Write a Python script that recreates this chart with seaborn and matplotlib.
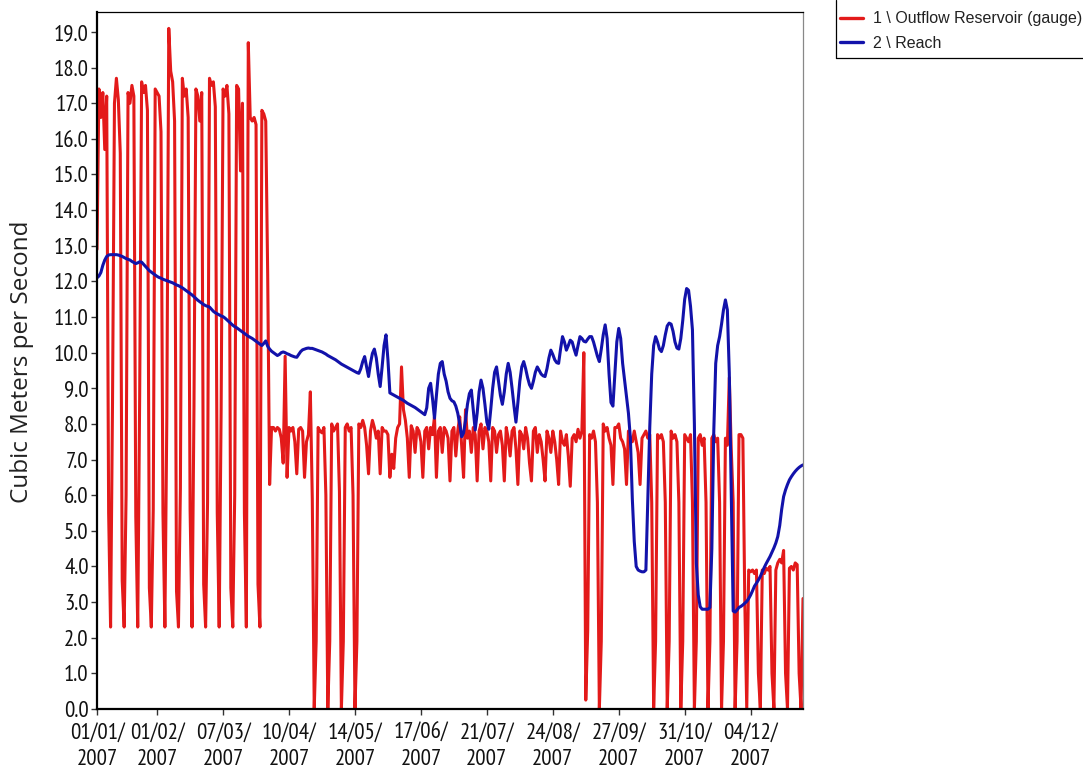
import os
import matplotlib
matplotlib.use("Agg")
import matplotlib.pyplot as plt
import matplotlib.dates as mdates
from matplotlib import font_manager
from matplotlib.font_manager import FontProperties
from matplotlib.lines import Line2D
import numpy as np
import pandas as pd
import seaborn as sns

# Daily flows for 2007, one value per day starting 1 January
start_date = "2007-01-01"

outflow_gauge = [
    12.9, 17.4, 16.6, 17.3, 15.7, 17.2, 5.5,
    2.3, 8.6, 17.0, 17.7, 17.1, 15.6, 3.6,
    2.3, 6.0, 17.3, 17.0, 17.5, 17.2, 5.4,
    2.3, 8.8, 17.6, 17.3, 17.5, 16.8, 3.4,
    2.3, 5.6, 17.4, 17.3, 17.2, 16.2, 5.5,
    2.3, 8.2, 19.1, 17.9, 17.6, 16.5, 3.3,
    2.3, 6.2, 17.7, 17.2, 17.4, 16.6, 5.6,
    2.3, 8.5, 17.4, 17.2, 16.5, 17.3, 3.5,
    2.3, 5.8, 17.7, 17.5, 17.6, 16.9, 5.5,
    2.3, 8.4, 17.4, 17.2, 17.5, 16.7, 3.4,
    2.3, 6.0, 17.5, 17.4, 15.1, 17.0, 5.5,
    2.3, 18.7, 16.6, 16.5, 16.6, 16.4, 3.5,
    2.3, 16.8, 16.7, 16.5, 12.2, 6.3, 7.9,
    7.9, 7.8, 7.9, 7.85, 7.6, 6.9, 9.9,
    6.5, 7.9, 7.8, 7.9, 7.5, 6.6, 7.85,
    7.9, 7.8, 6.5, 7.5, 7.7, 8.9, 5.9,
    0.0, 1.9, 7.9, 7.8, 7.75, 7.9, 6.0,
    0.0, 1.9, 8.0, 7.8, 7.9, 8.0, 6.1,
    0.0, 1.9, 7.9, 8.0, 7.8, 7.9, 6.0,
    0.0, 1.9, 8.0, 7.9, 8.1, 7.9, 7.4,
    6.6, 7.8, 8.1, 7.9, 7.6, 7.8, 6.6,
    7.9, 7.8, 7.8, 7.7, 6.5, 7.15, 6.75,
    7.6, 7.9, 8.0, 9.6, 8.4, 8.1, 7.6,
    6.5, 7.95, 7.8, 7.2, 7.9, 7.8, 7.5,
    6.5, 7.8, 7.9, 7.3, 7.9, 7.7, 8.2,
    6.5, 7.8, 7.9, 7.2, 7.9, 7.8, 7.6,
    6.4, 7.8, 7.9, 7.1, 7.8, 8.2, 7.4,
    6.5, 8.4, 7.6, 7.8, 7.2, 7.9, 7.7,
    6.4, 7.8, 8.0, 7.3, 7.9, 7.8, 7.5,
    6.4, 7.9, 7.8, 7.2, 7.7, 7.8, 7.4,
    6.4, 7.9, 7.6, 7.1, 7.8, 7.9, 7.3,
    6.3, 7.8, 7.7, 7.3, 7.9, 7.6, 6.9,
    6.4, 7.8, 7.9, 7.2, 7.7, 7.5, 7.0,
    6.4, 7.8, 7.6, 7.2, 7.8, 7.5, 7.0,
    6.3, 7.8, 7.5, 7.4, 7.7, 7.1, 6.25,
    7.6, 7.7, 7.5, 7.85, 7.6, 7.8, 10.0,
    0.25, 2.2, 7.7, 7.6, 7.8, 7.5, 5.8,
    0.0, 1.9, 8.0, 7.8, 7.9, 7.6, 7.4,
    6.3, 7.9, 7.9, 8.0, 7.6, 7.5, 7.3,
    6.3, 7.8, 7.6, 7.5, 7.8, 7.5, 7.2,
    6.3, 7.6, 7.7, 7.8, 7.6, 7.7, 5.8,
    0.0, 1.9, 7.7, 7.6, 7.7, 7.5, 5.8,
    0.0, 1.9, 7.8, 7.6, 7.7, 7.5, 5.8,
    0.0, 1.9, 7.7, 7.6, 7.5, 7.7, 5.8,
    0.0, 1.9, 7.6, 7.7, 7.4, 7.6, 5.8,
    0.0, 1.9, 7.6, 7.7, 7.5, 7.6, 5.8,
    0.0, 1.9, 7.6, 7.4, 9.3, 7.3, 5.8,
    0.0, 1.9, 7.7, 7.7, 7.6, 3.0, 0.0,
    3.9, 3.85, 3.9, 3.8, 3.9, 1.0, 0.0,
    3.9, 3.8, 3.95, 3.9, 4.0, 1.0, 0.0,
    3.9, 4.1, 4.2, 4.1, 4.45, 1.0, 0.0,
    3.95, 4.0, 3.9, 4.1, 4.05, 1.0, 0.0,
    3.1,
]

reach_flow = [
    12.10, 12.15, 12.25, 12.45, 12.60, 12.70, 12.74, 12.75, 12.75, 12.75,
    12.75, 12.74, 12.72, 12.70, 12.67, 12.64, 12.62, 12.60, 12.56, 12.53,
    12.50, 12.52, 12.55, 12.54, 12.48, 12.42, 12.36, 12.30, 12.26, 12.22,
    12.18, 12.14, 12.11, 12.09, 12.06, 12.04, 12.02, 12.00, 11.98, 11.96,
    11.93, 11.90, 11.88, 11.85, 11.82, 11.78, 11.74, 11.70, 11.66, 11.62,
    11.57, 11.52, 11.47, 11.43, 11.39, 11.35, 11.32, 11.30, 11.28, 11.22,
    11.16, 11.12, 11.09, 11.06, 11.03, 11.01, 10.97, 10.92, 10.87, 10.82,
    10.77, 10.73, 10.70, 10.66, 10.62, 10.58, 10.54, 10.50, 10.46, 10.43,
    10.40, 10.36, 10.32, 10.28, 10.24, 10.20, 10.26, 10.33, 10.18, 10.10,
    10.04, 10.00, 9.96, 9.92, 9.95, 10.00, 10.02, 10.00, 9.97, 9.95,
    9.92, 9.90, 9.88, 9.87, 9.95, 10.03, 10.08, 10.10, 10.12, 10.13,
    10.12, 10.12, 10.10, 10.08, 10.06, 10.04, 10.02, 9.99, 9.96, 9.92,
    9.89, 9.86, 9.83, 9.80, 9.76, 9.72, 9.68, 9.65, 9.62, 9.59,
    9.56, 9.53, 9.50, 9.47, 9.44, 9.42, 9.55, 9.75, 9.89, 9.60,
    9.33, 9.70, 9.98, 10.10, 9.85, 9.40, 9.05, 9.60, 10.20, 10.50,
    9.80, 8.87, 8.84, 8.81, 8.78, 8.75, 8.72, 8.69, 8.66, 8.62,
    8.58, 8.55, 8.52, 8.49, 8.46, 8.42, 8.38, 8.34, 8.30, 8.26,
    8.45, 9.00, 9.14, 8.70, 8.16, 8.80, 9.40, 9.70, 9.75, 9.40,
    9.20, 8.90, 8.72, 8.65, 8.62, 8.50, 8.30, 8.00, 7.64, 7.75,
    8.10, 8.55, 8.85, 8.95, 8.40, 7.83, 8.30, 8.90, 9.23, 9.00,
    8.55, 8.05, 7.85, 8.40, 9.00, 9.45, 9.60, 9.20, 8.80, 8.55,
    8.90, 9.40, 9.70, 9.45, 9.00, 8.50, 8.05, 8.60, 9.20, 9.60,
    9.75, 9.55, 9.30, 9.10, 9.00, 9.20, 9.45, 9.60, 9.50, 9.40,
    9.35, 9.33, 9.55, 9.85, 10.07, 9.95, 9.80, 9.72, 9.70, 10.10,
    10.45, 10.30, 10.07, 10.20, 10.35, 10.30, 10.10, 9.93, 10.20, 10.45,
    10.40, 10.32, 10.30, 10.38, 10.45, 10.45, 10.30, 10.10, 9.90, 9.75,
    10.10, 10.50, 10.78, 10.40, 9.40, 8.60, 8.50, 9.40, 10.30, 10.68,
    10.40, 9.70, 9.23, 8.77, 8.30, 7.60, 5.90, 4.70, 4.00, 3.90,
    3.87, 3.85, 3.85, 3.90, 5.90, 7.92, 9.40, 10.20, 10.45, 10.30,
    10.10, 10.03, 10.20, 10.50, 10.75, 10.83, 10.80, 10.60, 10.30, 10.13,
    10.10, 10.40, 10.90, 11.50, 11.80, 11.75, 11.30, 10.64, 8.00, 4.10,
    3.20, 2.87, 2.80, 2.80, 2.80, 2.80, 2.85, 4.50, 7.80, 9.70,
    10.20, 10.45, 10.80, 11.20, 11.48, 11.20, 9.43, 6.00, 2.75, 2.72,
    2.78, 2.85, 2.88, 2.92, 2.97, 3.02, 3.10, 3.20, 3.32, 3.45,
    3.53, 3.62, 3.72, 3.85, 3.97, 4.08, 4.18, 4.28, 4.40, 4.52,
    4.66, 4.84, 5.15, 5.60, 5.96, 6.15, 6.30, 6.43, 6.52, 6.60,
    6.67, 6.73, 6.78, 6.82, 6.85,
]

series_names = ["1 \\ Outflow Reservoir (gauge)", "2 \\ Reach"]
series_colors = ["#E31A1A", "#1212AA"]

tick_dates = ["2007-01-01", "2007-02-01", "2007-03-07", "2007-04-10",
              "2007-05-14", "2007-06-17", "2007-07-21", "2007-08-24",
              "2007-09-27", "2007-10-31", "2007-12-04"]
y_tick_values = np.arange(0.0, 20.0, 1.0)

# ---------------------------------------------------------------------------
sns.set_theme(style="white")
plt.rcParams["font.family"] = ["Liberation Sans", "DejaVu Sans"]


def narrow_tick_font():
    """Pick the narrowest regular sans face installed for the tick labels."""
    ranked = []
    for f in font_manager.fontManager.ttflist:
        base = os.path.basename(f.fname).lower()
        if f.style != "normal" or f.weight not in (400, "normal", "regular"):
            continue
        if "bold" in base or "italic" in base or "oblique" in base:
            continue
        if "narrow" in base and "sans" in base:
            ranked.append((0, f.fname, 16.5))
        elif "condensed" in base and "dejavu" not in base and "semi" not in base:
            ranked.append((1, f.fname, 15.5))
        elif "condensed" in base and "dejavu" in base:
            ranked.append((2, f.fname, 14.0))
    if ranked:
        ranked.sort()
        _, path, size = ranked[0]
        return FontProperties(fname=path, size=size)
    return FontProperties(family="Liberation Sans", size=13.5)


tick_props = narrow_tick_font()

days = pd.date_range(start_date, periods=len(outflow_gauge), freq="D")
frame = pd.concat([
    pd.DataFrame({"date": days, "flow": outflow_gauge, "series": series_names[0]}),
    pd.DataFrame({"date": days, "flow": reach_flow, "series": series_names[1]}),
], ignore_index=True)

fig = plt.figure(figsize=(10.83, 7.71), dpi=100)
ax = fig.add_axes([97 / 1083, 1 - 709 / 771, (803 - 97) / 1083, (709 - 12) / 771])

sns.lineplot(data=frame, x="date", y="flow", hue="series",
             hue_order=series_names, palette=series_colors,
             estimator=None, linewidth=2.2, legend=False, ax=ax)

ax.set_xlim(pd.Timestamp("2007-01-01"), pd.Timestamp("2007-12-31"))
ax.set_ylim(0.0, 19.56)

ax.set_xticks(pd.to_datetime(tick_dates))
ax.xaxis.set_major_formatter(mdates.DateFormatter("%d/%m/\n%Y"))
ax.set_yticks(y_tick_values)
ax.set_yticklabels([f"{v:.1f}" for v in y_tick_values])

for lbl in ax.get_xticklabels() + ax.get_yticklabels():
    lbl.set_fontproperties(tick_props)
    lbl.set_color("#111111")
for lbl in ax.get_xticklabels():
    lbl.set_linespacing(1.35)

ax.tick_params(axis="x", which="major", direction="out", length=4,
               width=1, color="#333333", pad=6, bottom=True)
ax.tick_params(axis="y", which="major", direction="out", length=4,
               width=1, color="#333333", pad=2, left=True)

ax.set_xlabel("")
ax.set_ylabel("")
fig.text(22 / 1083, 1 - 362 / 771, "Cubic Meters per Second", rotation=90,
         ha="center", va="center", fontsize=17.5, color="#222222",
         family=["Open Sans", "DejaVu Sans"])

for side in ["left", "bottom"]:
    ax.spines[side].set_color("black")
    ax.spines[side].set_linewidth(1.6)
ax.spines["top"].set_color("black")
ax.spines["top"].set_linewidth(0.9)
ax.spines["right"].set_color("#888888")
ax.spines["right"].set_linewidth(0.9)

# Legend in the top-right corner; its box runs off the figure edges,
# so only its left and bottom borders are drawn.
handles = [Line2D([0], [0], color=c, linewidth=2.4) for c in series_colors]
leg = fig.legend(handles, series_names, loc="upper left",
                 bbox_to_anchor=(836 / 1083, 1 - 7 / 771), bbox_transform=fig.transFigure,
                 frameon=False, borderaxespad=0.0,
                 handlelength=1.4, handletextpad=0.62, labelspacing=0.6,
                 borderpad=0.28, prop={"family": "Liberation Sans", "size": 11.5})
for t in leg.get_texts():
    t.set_color("#222222")

box_left, box_bottom = 836 / 1083, 1 - 58 / 771
fig.add_artist(Line2D([box_left, box_left], [1.0, box_bottom],
                      transform=fig.transFigure, color="black", linewidth=0.9))
fig.add_artist(Line2D([box_left, 1.0], [box_bottom, box_bottom],
                      transform=fig.transFigure, color="black", linewidth=0.9))

fig.savefig("out.png", dpi=100, facecolor="white")
